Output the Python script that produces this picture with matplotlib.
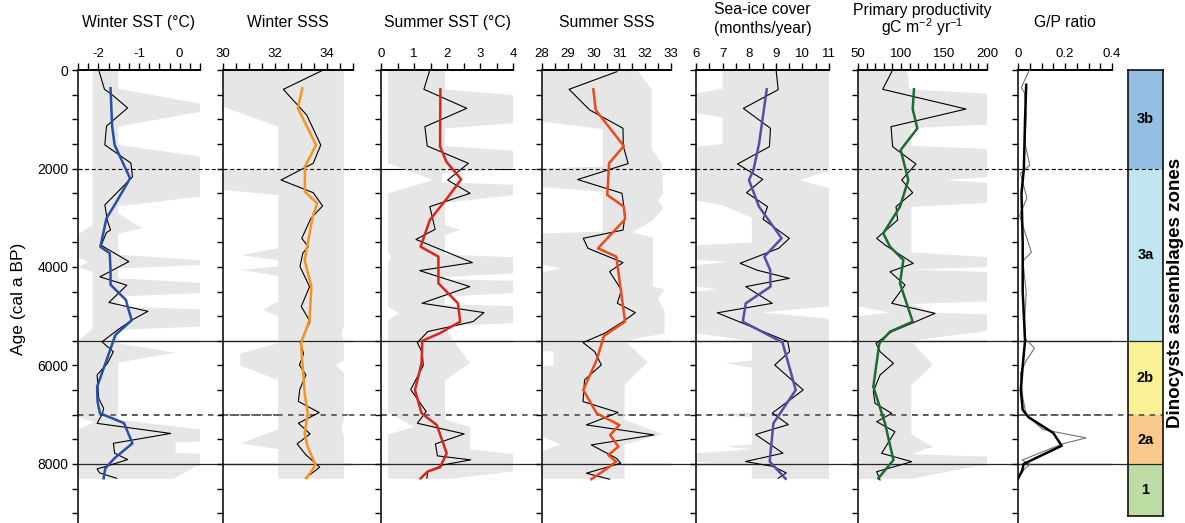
import numpy as np
import matplotlib.pyplot as plt
from matplotlib.ticker import MultipleLocator

plt.rcParams['font.family'] = ['Liberation Sans', 'DejaVu Sans']
plt.rcParams['axes.unicode_minus'] = False
plt.rcParams['mathtext.fontset'] = 'custom'
plt.rcParams['mathtext.rm'] = 'Liberation Sans'
plt.rcParams['mathtext.default'] = 'regular'

# ---------------- data (age in cal a BP) ----------------
# Winter SST
wsst_age = [0, 390, 490, 770, 1140, 1520, 1890, 2170, 2740, 3050, 3250, 3300, 3560, 3890,
            4200, 4370, 4720, 4900, 5070, 5280, 5520, 5720, 5960, 6190, 6670, 6870, 6980,
            7175, 7380, 7580, 7780, 7910, 8040, 8100, 8180, 8290]
wsst = [-1.99, -1.85, -1.68, -1.28, -1.80, -1.84, -1.20, -1.16, -1.84, -1.78, -1.70, -1.80,
        -1.93, -1.25, -1.96, -1.30, -1.74, -0.78, -1.16, -1.53, -1.91, -1.63, -1.78, -2.03,
        -1.99, -1.87, -1.90, -2.03, -0.22, -1.63, -1.60, -1.28, -1.78, -2.03, -1.97, -1.55]
wsst_s_age = [370, 1150, 1520, 2200, 2700, 3010, 3590, 3720, 4060, 4360, 4670, 4800, 5080,
              5380, 5850, 6430, 6730, 6970, 7170, 7580, 7880, 8090, 8290]
wsst_s = [-1.70, -1.66, -1.60, -1.22, -1.57, -1.80, -1.95, -1.72, -1.70, -1.70, -1.32, -1.28,
          -1.18, -1.58, -1.78, -2.03, -2.02, -1.96, -1.37, -1.16, -1.60, -1.83, -1.87]
wsst_lo_age = [0, 3150, 3330, 3800, 3900, 4000, 4100, 5250, 5500, 7050, 7150, 7300, 8300]
wsst_lo = [-2.14, -2.14, -2.5, -2.5, -2.25, -2.5, -2.14, -2.14, -2.5, -2.5, -2.1, -2.5, -2.5]
wsst_hi_age = [0, 380, 680, 850, 1150, 1520, 1760, 2570, 2770, 2910, 3215, 3320, 3750, 3860,
               3960, 4030, 4230, 4320, 4530, 4600, 4800, 4860, 5210, 5280, 5550, 5740, 5940,
               7100, 7300, 7550, 7560, 7780, 7790, 8000, 8300]
wsst_hi = [-1.51, -1.51, 0.5, 0.5, -1.51, -1.51, 0.5, 0.5, -1.51, -1.51, -0.92, -1.51, -1.51,
           0.5, 0.5, -1.51, -1.51, 0.5, 0.5, -1.51, -1.51, 0.5, 0.5, -1.51, -1.51, -0.1, -1.51,
           -1.51, 0.5, 0.5, -0.1, -0.1, 0.5, 0.5, -0.15]

# Winter SSS
wsss_age = [15, 393, 914, 1523, 1895, 2234, 2491, 2761, 3012, 3418, 3587, 3720, 3990, 4400,
            4800, 5110, 5535, 5760, 5990, 6190, 6490, 6730, 6955, 7172, 7389, 7592, 7815,
            8065, 8288]
wsss = [33.80, 32.32, 33.22, 33.76, 33.47, 32.23, 33.47, 33.83, 33.38, 33.03, 33.28, 33.07,
        32.96, 33.33, 33.01, 33.35, 32.97, 33.10, 32.94, 33.19, 32.95, 32.90, 33.70, 32.90,
        33.35, 32.85, 33.19, 33.72, 33.17]
wsss_s_age = [372, 778, 1522, 1962, 2470, 2706, 2977, 3860, 4398, 5074, 5548, 6563, 6969,
              7375, 7646, 8018, 8288]
wsss_s = [33.05, 32.88, 33.58, 33.15, 33.15, 33.62, 33.45, 33.14, 33.40, 33.33, 33.00, 33.14,
          33.26, 33.14, 33.25, 33.56, 33.21]
wsss_lo_age = [0, 745, 1150, 2000, 2010, 2436, 2538, 3620, 3760, 3860, 3990, 4060, 4180, 4700,
               4870, 5000, 5550, 5750, 6000, 6300, 7300, 7580, 7700, 8300]
wsss_lo = [30, 30, 32.12, 32.12, 30, 30, 32.12, 32.12, 30.7, 32.12, 32.12, 30.7, 32.12, 32.12,
           31.54, 32.12, 32.12, 30.67, 30.67, 32.12, 32.12, 30.67, 32.12, 32.12]
wsss_hi_age = [0, 5200, 5350, 5500, 5900, 5990, 6150, 7100, 7250, 7450, 8300]
wsss_hi = [34.65, 34.65, 34.55, 34.65, 34.65, 34.35, 34.65, 34.65, 34.55, 34.65, 34.65]

# Summer SST
ssst_age = [0, 392, 778, 1151, 1543, 1895, 2234, 2504, 2775, 3235, 3440, 3911, 4073, 4398,
            4736, 4926, 5108, 5311, 5535, 5738, 6000, 6490, 6935, 7172, 7389, 7592, 7835,
            7916, 8018, 8153, 8288]
ssst = [1.48, 1.30, 2.60, 1.33, 1.40, 2.65, 2.02, 2.70, 1.48, 1.64, 1.06, 2.77, 1.17, 2.69,
        1.24, 3.12, 2.79, 1.42, 1.10, 1.25, 1.28, 0.90, 1.37, 1.10, 2.52, 1.65, 1.71, 2.72,
        1.88, 1.42, 1.39]
ssst_s_age = [392, 1550, 1861, 2220, 2572, 3046, 3587, 3790, 4331, 4736, 5110, 5345, 5500,
              5950, 6497, 6972, 7208, 7783, 8067, 8150, 8291]
ssst_s = [1.80, 1.79, 1.98, 2.43, 2.04, 1.48, 1.20, 1.74, 1.74, 2.33, 2.40, 1.78, 1.25, 1.23,
          1.03, 1.23, 1.69, 1.99, 1.79, 1.42, 1.20]
ssst_lo_age = [0, 1895, 2234, 2504, 3700, 3800, 3900, 4800, 4940, 5080, 6950, 7250, 7400, 8300]
ssst_lo = [0.21, 0.21, 1.58, 0.21, 0.21, 0.31, 0.21, 0.21, 0.55, 0.21, 0.21, 1.0, 0.21, 0.21]
ssst_hi_age = [0, 392, 508, 1083, 1184, 1543, 1640, 1990, 2100, 2280, 2330, 2540, 2700, 3150,
               3250, 3350, 3750, 3800, 4130, 4200, 4250, 4280, 4530, 4600, 4760, 4790, 5140,
               5200, 5500, 5950, 6300, 7100, 7250, 7700, 7800, 8150, 8300]
ssst_hi = [1.94, 1.94, 4.0, 4.0, 1.94, 1.94, 4.0, 4.0, 1.85, 1.85, 4.0, 4.0, 1.94, 1.94, 2.4,
           1.94, 1.94, 4.0, 4.0, 1.94, 1.94, 4.0, 4.0, 1.94, 1.94, 4.0, 4.0, 1.94, 2.2, 2.7,
           1.94, 1.94, 2.7, 2.7, 4.0, 4.0, 2.1]

# Summer SSS
ssss_age = [34, 392, 812, 1184, 1543, 1900, 2224, 2503, 2950, 3250, 3417, 3620, 3911, 4093,
            4466, 4736, 4926, 5108, 5345, 5535, 5717, 5988, 6292, 6732, 6955, 7206, 7409,
            7612, 7882, 7984, 8187, 8309]
ssss = [30.90, 29.05, 29.85, 31.14, 31.15, 31.34, 29.38, 31.10, 31.22, 31.14, 29.60, 29.78,
        31.14, 30.62, 31.08, 30.92, 31.62, 31.14, 30.43, 29.59, 30.04, 30.30, 29.65, 29.59,
        30.95, 29.72, 32.34, 29.91, 30.88, 31.05, 29.72, 30.62]
ssss_s_age = [392, 812, 1543, 1894, 2537, 2774, 3031, 3620, 3789, 5108, 5400, 5888, 6497,
              6972, 7208, 7411, 7648, 7817, 7952, 8100, 8309]
ssss_s = [29.99, 30.08, 31.17, 30.60, 30.53, 31.17, 31.22, 30.17, 30.88, 31.22, 30.40, 30.12,
          29.60, 30.12, 31.00, 30.64, 30.96, 30.57, 30.87, 30.50, 29.91]
ssss_lo_age = [0, 1050, 1200, 1960, 2000, 2380, 2470, 3280, 3320, 3950, 4030, 4110, 5700, 5720,
               6000, 6020, 7450, 7600, 7750, 8300]
ssss_lo = [28, 28, 30.36, 30.36, 28, 28, 30.36, 30.36, 28, 28, 28.7, 28, 28, 28.45, 28.45, 28,
           28, 28.7, 28, 28]
ssss_hi_age = [0, 400, 1600, 1900, 2500, 2650, 2800, 3050, 3300, 3400, 4400, 4450, 4650, 4900,
               5350, 5500, 5930, 6400, 7100, 7400, 7600, 8300]
ssss_hi = [31.7, 32.25, 32.25, 32.65, 32.7, 32.5, 32.7, 32.3, 31.5, 32.3, 32.3, 32.75, 32.5,
           32.75, 32.75, 31.2, 32.1, 31.2, 31.2, 32.7, 31.2, 31.2]

# Sea-ice cover
ice_age = [0, 400, 780, 1184, 1557, 1909, 2220, 2490, 2775, 3030, 3418, 3620, 3925, 4065,
           4230, 4399, 4737, 4930, 5515, 5717, 5990, 6497, 6965, 7200, 7400, 7780, 7950,
           8050, 8180, 8290]
ice = [9.01, 9.09, 7.78, 8.80, 8.76, 7.56, 8.51, 7.90, 8.69, 8.52, 9.51, 9.11, 7.66, 8.30,
       9.51, 7.87, 8.87, 6.80, 9.45, 9.52, 8.96, 10.03, 8.87, 9.47, 8.24, 9.27, 7.86, 8.90,
       9.39, 9.09]
ice_s_age = [392, 1500, 2030, 2234, 2775, 3417, 3789, 4061, 4399, 4737, 5110, 5530, 6497,
             7174, 7950, 8300]
ice_s = [8.66, 8.37, 8.16, 7.99, 8.37, 9.22, 8.57, 8.79, 8.80, 7.87, 7.76, 9.25, 9.75, 8.91,
         8.77, 9.37]
ice_lo_age = [0, 380, 470, 880, 960, 1500, 1560, 2650, 2750, 3000, 3500, 3560, 3850, 3900,
              3960, 4400, 4450, 4500, 5350, 5500, 5900, 5950, 6050, 6950, 7000, 7050, 7600,
              7650, 7700, 7780, 7960, 8020, 8300]
ice_lo = [7.0, 7.0, 6.0, 6.0, 7.0, 7.0, 6.0, 6.0, 7.0, 8.1, 8.1, 6.0, 6.0, 7.2, 6.0, 6.0, 6.8,
          6.0, 6.0, 8.1, 8.1, 7.1, 8.1, 8.1, 6.5, 8.1, 8.1, 7.1, 8.1, 6.0, 6.0, 8.1, 8.1]
ice_hi_age = [0, 2050, 2234, 2400, 4800, 4926, 5050, 8300]
ice_hi = [11, 11, 9.9, 11, 11, 8.5, 11, 11]

# Primary productivity
pp_age = [0, 392, 792, 1151, 1557, 1909, 2234, 2491, 2775, 3046, 3418, 3553, 3926, 4095,
          4365, 4737, 4941, 5145, 5313, 5550, 5718, 5956, 6193, 6531, 6768, 6972, 7141,
          7344, 7783, 7953, 8156, 8325]
pp = [90.3, 78.7, 175.6, 88.4, 90.3, 117.4, 100.8, 113.6, 94.2, 96.1, 71.7, 81.4, 114.3,
      87.2, 104.7, 89.2, 139.5, 112.4, 89.2, 70.9, 75.6, 91.2, 75.6, 67.8, 69.8, 89.2, 71.7,
      93.0, 77.5, 112.4, 71.7, 75.6]
pp_s_age = [392, 792, 1184, 1624, 2234, 2775, 3316, 3587, 3858, 4331, 5110, 5313, 5550, 6430,
            7174, 7919, 8291]
pp_s = [115.1, 113.6, 119.0, 99.6, 108.5, 98.8, 79.4, 87.2, 102.7, 98.8, 113.6, 87.2, 74.8,
        67.8, 81.4, 91.2, 73.6]
pp_lo_age = [0, 4800, 4926, 5000, 8300]
pp_lo = [50, 50, 87, 50, 50]
pp_hi_age = [0, 392, 480, 1110, 1180, 1540, 1600, 2180, 2234, 2290, 2700, 2780, 3700, 3800,
             4000, 4050, 4100, 4700, 4750, 4930, 4960, 5300, 5500, 5990, 6400, 7400, 7650,
             7800, 7850, 8000, 8300]
pp_hi = [107, 110, 200, 200, 112, 112, 200, 200, 150, 200, 200, 112, 112, 200, 200, 112, 200,
         200, 112, 140, 200, 200, 112, 137, 112, 112, 137, 112, 200, 200, 112]

# G/P ratio
gp_age = [0, 360, 465, 900, 1500, 1930, 2100, 2600, 2950, 3380, 3700, 3880, 4520, 5090, 5450,
          5650, 5900, 6160, 6670, 7000, 7300, 7470, 7590, 7780, 7920, 8010, 8090, 8280]
gp = [0.048, 0.014, 0.028, 0.035, 0.030, 0.050, 0.010, 0.038, 0.007, 0.035, 0.057, 0.021,
      0.035, 0.028, 0.030, 0.070, 0.035, 0.010, 0.021, 0.035, 0.106, 0.290, 0.190, 0.090,
      0.018, 0.052, 0.030, 0.0]
gp_s_age = [300, 1000, 2000, 2500, 3500, 4500, 5500, 6000, 6500, 6900, 7050, 7370, 7630, 7870,
            8000, 8130, 8300]
gp_s = [0.035, 0.030, 0.025, 0.015, 0.020, 0.020, 0.030, 0.020, 0.012, 0.020, 0.045, 0.150,
        0.186, 0.080, 0.024, 0.018, 0.0]

# Dinocyst assemblage zones
zone_edges = [0, 2000, 5500, 7000, 8000, 9050]
zone_labels = ['3b', '3a', '2b', '2a', '1']
zone_colors = ['#94bfe2', '#c1e6ef', '#f8f295', '#f9ca8c', '#bcdca3']

# zone limits drawn across the panels
bound_ages = [2000, 5500, 7000, 8000]
bound_styles = [dict(color='k', lw=0.8, ls=(0, (3.5, 2.5))),
                dict(color='0.15', lw=0.9, ls='-'),
                dict(color='0.35', lw=1.3, ls=(0, (3, 3))),
                dict(color='0.15', lw=0.9, ls='-')]

panels = [
    dict(title=['Winter SST (°C)'], px=(78, 200), xlim=(-2.5, 0.5), minor=0.25,
         ticks=[-2, -1, 0], color='#2a4ea6', raw=(wsst_age, wsst), smooth=(wsst_s_age, wsst_s),
         env=(wsst_lo_age, wsst_lo, wsst_hi_age, wsst_hi)),
    dict(title=['Winter SSS'], px=(223, 353), xlim=(30, 35), minor=0.5,
         ticks=[30, 32, 34], color='#f7931e', raw=(wsss_age, wsss), smooth=(wsss_s_age, wsss_s),
         env=(wsss_lo_age, wsss_lo, wsss_hi_age, wsss_hi)),
    dict(title=['Summer SST (°C)'], px=(381, 513), xlim=(0, 4), minor=0.5,
         ticks=[0, 1, 2, 3, 4], color='#d7261e', raw=(ssst_age, ssst), smooth=(ssst_s_age, ssst_s),
         env=(ssst_lo_age, ssst_lo, ssst_hi_age, ssst_hi)),
    dict(title=['Summer SSS'], px=(542, 671), xlim=(28, 33), minor=0.5,
         ticks=[28, 29, 30, 31, 32, 33], color='#ea4a1c', raw=(ssss_age, ssss),
         smooth=(ssss_s_age, ssss_s), env=(ssss_lo_age, ssss_lo, ssss_hi_age, ssss_hi)),
    dict(title=['Sea-ice cover', '(months/year)'], px=(696, 829), xlim=(6, 11),
         minor=0.5, ticks=[6, 7, 8, 9, 10, 11], color='#5a4aa8', raw=(ice_age, ice),
         smooth=(ice_s_age, ice_s), env=(ice_lo_age, ice_lo, ice_hi_age, ice_hi)),
    dict(title=['Primary productivity', r'gC m$^{-2}$ yr$^{-1}$'], px=(858, 987),
         xlim=(50, 200), minor=10, ticks=[50, 100, 150, 200], color='#1b6b32',
         raw=(pp_age, pp), smooth=(pp_s_age, pp_s), env=(pp_lo_age, pp_lo, pp_hi_age, pp_hi)),
    dict(title=['G/P ratio'], px=(1018, 1112), xlim=(0, 0.4), minor=0.05,
         ticks=[0, 0.2, 0.4], labels=['0', '0.2', '0.4'], color='k', raw_color='0.45',
         raw=(gp_age, gp), smooth=(gp_s_age, gp_s), env=None),
]

# ---------------- layout in pixels ----------------
W, H = 1185, 523
TOP = 70
AGE_MAX = (H - TOP) / 0.04925

fig = plt.figure(figsize=(W / 100, H / 100), dpi=100)


def add_px_axes(x0, x1, y0=TOP, y1=H):
    return fig.add_axes([x0 / W, 1 - y1 / H, (x1 - x0) / W, (y1 - y0) / H])


# zone limits running through the gaps between panels
back = add_px_axes(78, 1163)
back.set_ylim(AGE_MAX, 0)
back.axis('off')
back.set_zorder(0)
for a, st in zip(bound_ages, bound_styles):
    back.axhline(a, **st)

for i, p in enumerate(panels):
    ax = add_px_axes(*p['px'])
    ax.set_zorder(2)
    ax.patch.set_alpha(0)
    ax.set_xlim(*p['xlim'])
    ax.set_ylim(AGE_MAX, 0)

    if p['env'] is not None:
        lo_a, lo_v, hi_a, hi_v = p['env']
        ax.fill(np.r_[lo_v, hi_v[::-1]], np.r_[lo_a, hi_a[::-1]], color='#e6e6e6', lw=0,
                zorder=1)
    for a, st in zip(bound_ages, bound_styles):
        ax.axhline(a, zorder=1.5, **st)
    ax.plot(p['raw'][1], p['raw'][0], color=p.get('raw_color', 'k'), lw=0.8, zorder=3)
    ax.plot(p['smooth'][1], p['smooth'][0], color=p['color'], lw=1.8, zorder=4)

    for side in ('right', 'bottom'):
        ax.spines[side].set_visible(False)
    ax.spines['top'].set_linewidth(1.4)
    ax.spines['left'].set_linewidth(1.1)

    ax.xaxis.tick_top()
    ax.set_xticks(p['ticks'])
    if 'labels' in p:
        ax.set_xticklabels(p['labels'])
    ax.xaxis.set_minor_locator(MultipleLocator(p['minor']))
    ax.tick_params(axis='x', which='both', direction='out', length=5, width=1, pad=2,
                   labelsize=9.5)

    ax.set_yticks(np.arange(0, 9000, 2000))
    ax.yaxis.set_minor_locator(MultipleLocator(500))
    ax.tick_params(axis='y', which='both', direction='out', length=4, width=1, pad=3,
                   labelsize=10, labelleft=(i == 0))

    xc = (p['px'][0] + p['px'][1]) / 2 / W
    if len(p['title']) == 1:
        fig.text(xc, 1 - 27 / H, p['title'][0], ha='center', va='baseline', fontsize=11.3)
    else:
        fig.text(xc, 1 - 14.5 / H, p['title'][0], ha='center', va='baseline', fontsize=11.3)
        fig.text(xc, 1 - 32.5 / H, p['title'][1], ha='center', va='baseline', fontsize=11.3)

# assemblage zone column
zax = add_px_axes(1128, 1163, TOP, 516)
zax.set_zorder(2)
zax.set_xlim(0, 1)
zax.set_ylim(zone_edges[-1], 0)
starts = zone_edges[:-1]
heights = np.diff(zone_edges)
zax.bar(0.5, heights, bottom=starts, width=1, color=zone_colors, lw=0)
for a, st in zip(bound_ages, bound_styles):
    zax.axhline(a, **st)
for s, h, lab in zip(starts, heights, zone_labels):
    zax.text(0.5, s + h / 2, lab, ha='center', va='center', fontsize=10.5, fontweight='bold')
zax.set_xticks([])
zax.set_yticks([])
for sp in zax.spines.values():
    sp.set_linewidth(1.1)

fig.text(19 / W, 1 - 299 / H, 'Age (cal a BP)', rotation=90, ha='center', va='center',
         fontsize=12.5)
fig.text(1176 / W, 1 - 293 / H, 'Dinocysts assemblages zones', rotation=90, ha='center',
         va='center', fontsize=13.5, fontweight='bold')

fig.savefig('out.png', dpi=100)
